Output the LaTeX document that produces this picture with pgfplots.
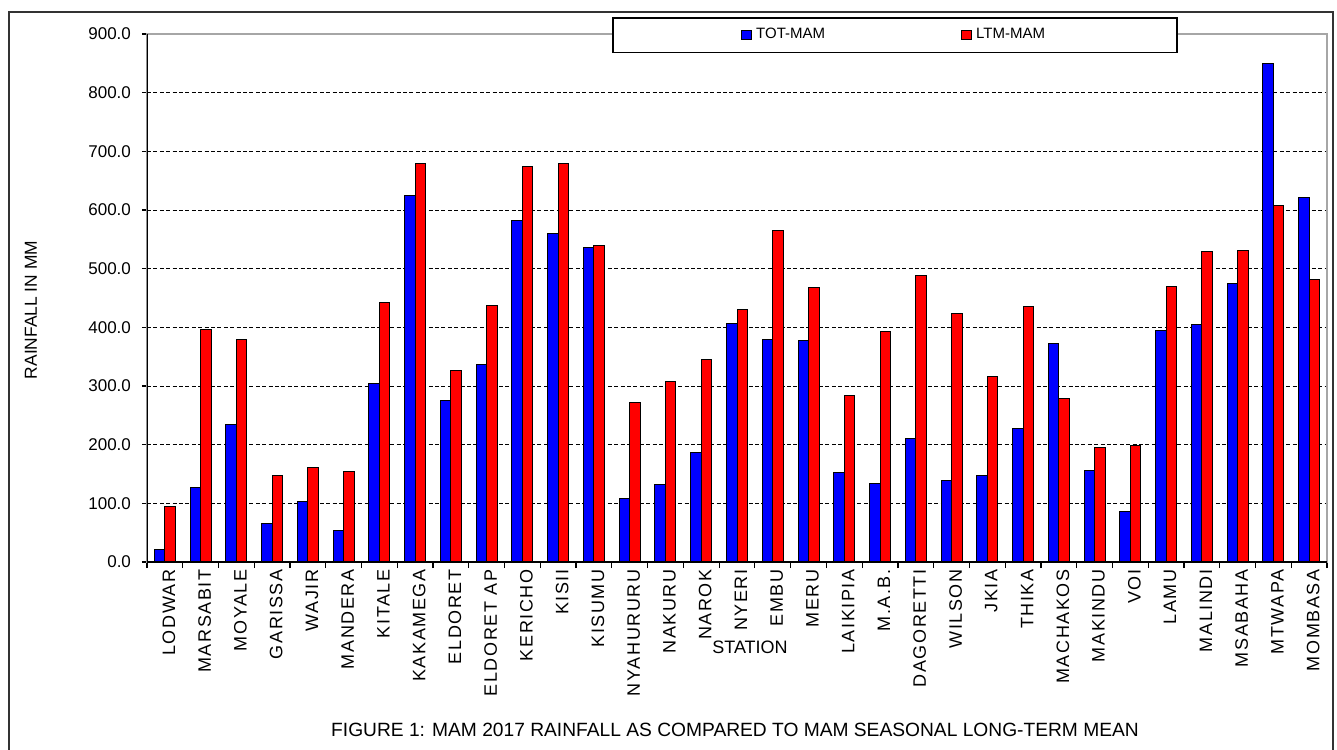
\documentclass[border=0pt]{standalone}
\usepackage{pgfplots}
\pgfplotsset{compat=1.18}
\usepackage{pgfplotstable}
\usepackage{fontspec}
\setmainfont{Liberation Sans}
\newfontfamily\xlab[LetterSpace=9]{Liberation Sans}

\pgfplotstableread{
idx tot ltm
0 22 95
1 127 396
2 235 379
3 66 147
4 103 161
5 53 154
6 304 443
7 624 680
8 276 326
9 336 438
10 582 675
11 560 680
12 536 540
13 108 272
14 132 308
15 186 345
16 406 430
17 379 565
18 377 468
19 152 284
20 133 393
21 211 489
22 139 423
23 147 316
24 228 436
25 372 279
26 156 196
27 86 199
28 394 470
29 404 529
30 475 531
31 849 607
32 622 482
}\rain

\definecolor{tblue}{RGB}{0,0,255}
\definecolor{tred}{RGB}{255,0,0}

\begin{document}
\begin{tikzpicture}
\useasboundingbox (-73.5pt,-93.5pt) rectangle (595pt,281pt);
\begin{axis}[
  at={(0,0)}, anchor=south west,
  scale only axis,
  width=590pt, height=264pt,
  ybar=0pt, bar width=5.25pt,
  xmin=-0.5, xmax=32.5, ymin=0, ymax=900,
  enlarge x limits=false,
  xtick={0,...,32},
  minor xtick={-0.5,0.5,...,32.5},
  xticklabels={LODWAR,MARSABIT,MOYALE,GARISSA,WAJIR,MANDERA,KITALE,KAKAMEGA,ELDORET,ELDORET AP,KERICHO,KISII,KISUMU,NYAHURURU,NAKURU,NAROK,NYERI,EMBU,MERU,LAIKIPIA,M.A.B.,DAGORETTI,WILSON,JKIA,THIKA,MACHAKOS,MAKINDU,VOI,LAMU,MALINDI,MSABAHA,MTWAPA,MOMBASA},
  xticklabel style={rotate=90, anchor=east, font=\xlab\fontsize{9}{10}\selectfont, inner sep=1pt, yshift=-2pt},
  ytick={0,100,...,900},
  yticklabel style={font=\fontsize{8.5}{10}\selectfont, xshift=-2pt},
  /pgf/number format/.cd, fixed, fixed zerofill, precision=1, assume math mode=true,
  /pgfplots/.cd,
  tick align=outside,
  xtick pos=bottom, ytick pos=left,
  major tick length=2.5pt, minor tick length=3pt,
  every major x tick/.style={draw=none},
  tick style={black, line width=0.6pt},
  ymajorgrids,
  grid style={black, line width=0.5pt, dash pattern=on 2pt off 1.2pt},
  axis line style={draw=black!35, line width=0.9pt},
  legend style={at={(axis description cs:0.634,0.998)}, anchor=center,
    draw=black, line width=0.8pt, inner xsep=64pt, inner ysep=3.3pt,
    font=\fontsize{7.5}{9}\selectfont, legend columns=2,
    /tikz/every even column/.append style={column sep=66pt}},
  legend image code/.code={\draw[#1, line width=0.5pt] (0pt,-2pt) rectangle (5pt,2.5pt);},
]
\addplot[fill=tblue, draw=black, line width=0.5pt] table[x=idx, y=tot] {\rain};
\addplot[fill=tred, draw=black, line width=0.5pt] table[x=idx, y=ltm] {\rain};
\legend{TOT-MAM, LTM-MAM}
\draw[black, line width=1.1pt] (rel axis cs:0,0) -- (rel axis cs:0,1);
\draw[black, line width=0.8pt] (rel axis cs:0,0) -- (rel axis cs:1,0);
\end{axis}
\node[rotate=90, font=\fontsize{8.7}{10}\selectfont] at (-58pt,126pt) {RAINFALL IN MM};
\node[font=\fontsize{9}{10}\selectfont] at (301.5pt,-42.5pt) {STATION};
\node[font=\fontsize{9.6}{11}\selectfont] at (294pt,-84pt) {FIGURE 1: MAM 2017 RAINFALL AS COMPARED TO MAM SEASONAL LONG-TERM MEAN};
\draw[black!80, line width=0.7pt] (-69pt,-100pt) -- (-69pt,275pt) -- (593pt,275pt) -- (593pt,-100pt);
\end{tikzpicture}
\end{document}
